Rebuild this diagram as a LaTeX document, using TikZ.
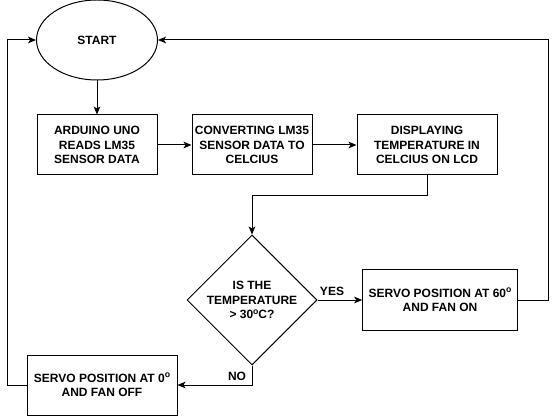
\documentclass[tikz,border=0pt]{standalone}
\usepackage{fontspec}
\setmainfont{Liberation Sans}
\usetikzlibrary{shapes.geometric,arrows.meta}
\newcommand{\degsup}{\raisebox{0.75ex}{\fontsize{6.5}{7}\selectfont o}}
\tikzset{
  box/.style={draw, line width=0.75pt, inner sep=0pt, align=center, minimum height=45pt, font=\fontsize{9}{11}\selectfont\bfseries},
  term/.style={draw, ellipse, line width=0.75pt, inner sep=0pt, minimum width=90.75pt, minimum height=60pt, font=\fontsize{9}{11}\selectfont\bfseries},
  dec/.style={draw, diamond, line width=0.75pt, inner sep=0pt, minimum width=97.5pt, minimum height=97.5pt, align=center, font=\fontsize{9}{11}\selectfont\bfseries},
  conn/.style={line width=0.75pt, -{Stealth[length=6pt,width=5pt,inset=1.5pt]}},
  lbl/.style={font=\fontsize{9}{11}\selectfont\bfseries, inner sep=0pt}
}
\begin{document}
\begin{tikzpicture}[x=0.75pt,y=-0.75pt]
\useasboundingbox[fill=white] (0,0) rectangle (556,416);
\node[term] (start) at (97,40) {START};
\node[box, minimum width=90pt] (b1) at (97,145) {ARDUINO UNO\\READS LM35\\SENSOR DATA};
\node[box, minimum width=90pt] (b2) at (252,145) {CONVERTING LM35\\SENSOR DATA TO\\CELCIUS};
\node[box, minimum width=105pt] (b3) at (427,145) {DISPLAYING\\TEMPERATURE IN\\CELCIUS ON LCD};
\node[dec] (d) at (252,300) {IS THE\\TEMPERATURE\\> 30\degsup C?};
\node[box, minimum width=116pt] (yes) at (440,300) {SERVO POSITION AT 60\degsup\\AND FAN ON};
\node[box, minimum width=112.5pt] (no) at (102,385) {SERVO POSITION AT 0\degsup\\AND FAN OFF};
\coordinate (j1) at (252,196);
\coordinate (r) at (548,40);
\coordinate (l) at (7,40);
\draw[conn] (start) -- (b1);
\draw[conn] (b1) -- (b2);
\draw[conn] (b2) -- (b3);
\draw[conn] (b3.south) |- (j1) -- (d.north);
\draw[conn] (d.east) -- (yes.west);
\draw[conn] (yes.east) -| (r) -- (start.east);
\draw[conn] (d.south) |- (no.east);
\draw[conn] (no.west) -| (l) -- (start.west);
\node[lbl] (ylab) at (332,291) {YES};
\node[lbl] (nlab) at (237,376) {NO};
\end{tikzpicture}
\end{document}
